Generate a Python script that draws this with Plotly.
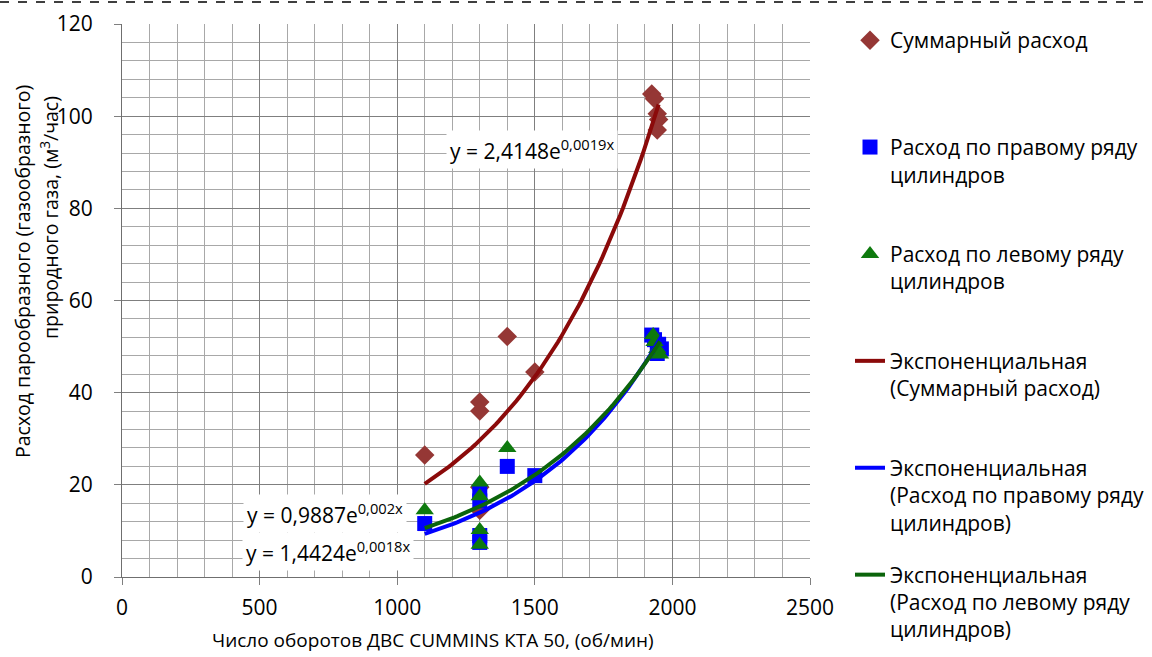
import numpy as np
import plotly.graph_objects as go

# ---- data ----
rpm_total = [1100, 1300, 1300, 1300, 1300, 1400, 1500, 1925, 1935, 1945, 1950, 1945]
flow_total = [26.5, 38.0, 36.0, 19.5, 14.5, 52.2, 44.5, 104.8, 103.8, 100.5, 99.3, 97.0]

rpm_right = [1100, 1300, 1300, 1300, 1300, 1400, 1500, 1925, 1935, 1960, 1950, 1945]
flow_right = [11.6, 18.5, 16.5, 9.0, 7.5, 24.0, 22.0, 52.5, 51.5, 49.5, 50.5, 48.5]

rpm_left = [1100, 1300, 1300, 1300, 1300, 1400, 1930, 1935, 1945, 1955]
flow_left = [14.5, 20.5, 17.5, 10.2, 7.0, 28.0, 52.5, 51.0, 49.5, 48.3]

x_ticks = [0, 500, 1000, 1500, 2000, 2500]
y_ticks = [0, 20, 40, 60, 80, 100, 120]

eq_total = "y = 2,4148e<sup>0,0019x</sup>"
eq_right = "y = 0,9887e<sup>0,002x</sup>"
eq_left = "y = 1,4424e<sup>0,0018x</sup>"

FONT = "Open Sans"
C_SUM = "#953735"
C_SUM_LINE = "#8B0A0A"
C_RIGHT = "#0000FF"
C_LEFT = "#0E7A0E"
C_LEFT_LINE = "#0B640B"
PAD = "<br>\u00a0"


def exp_fit(x, y):
    b, ln_a = np.polyfit(np.asarray(x, float), np.log(np.asarray(y, float)), 1)
    xs = np.linspace(min(x), max(x), 80)
    return xs, np.exp(ln_a) * np.exp(b * xs)


fig = go.Figure()

fig.add_trace(go.Scatter(
    x=rpm_total, y=flow_total, mode="markers", name="Суммарный расход" + PAD + PAD,
    legendgroup="g1",
    marker=dict(symbol="diamond", size=15, color=C_SUM)))
fig.add_trace(go.Scatter(
    x=rpm_right, y=flow_right, mode="markers", name="Расход по правому ряду<br>цилиндров" + PAD,
    legendgroup="g2",
    marker=dict(symbol="square", size=15, color=C_RIGHT)))
fig.add_trace(go.Scatter(
    x=rpm_left, y=flow_left, mode="markers", name="Расход по левому ряду<br>цилиндров" + PAD,
    legendgroup="g3",
    marker=dict(symbol="triangle-up", size=16, color=C_LEFT)))

xs, ys = exp_fit(rpm_total, flow_total)
fig.add_trace(go.Scatter(x=xs, y=ys, mode="lines",
                         name="Экспоненциальная<br>(Суммарный расход)" + PAD,
                         legendgroup="g4", line=dict(color=C_SUM_LINE, width=4)))
xs, ys = exp_fit(rpm_right, flow_right)
fig.add_trace(go.Scatter(x=xs, y=ys, mode="lines",
                         name="Экспоненциальная<br>(Расход по правому ряду<br>цилиндров)",
                         legendgroup="g5", line=dict(color=C_RIGHT, width=4)))
xs, ys = exp_fit(rpm_left, flow_left)
fig.add_trace(go.Scatter(x=xs, y=ys, mode="lines",
                         name="Экспоненциальная<br>(Расход по левому ряду<br>цилиндров)",
                         legendgroup="g6", line=dict(color=C_LEFT_LINE, width=4)))

# trendline equations
for txt, xv, yv in [(eq_total, 1490, 92.7), (eq_right, 738, 13.7), (eq_left, 749, 5.6)]:
    fig.add_annotation(x=xv, y=yv, xref="x", yref="y", text=txt, showarrow=False,
                       xanchor="center", yanchor="middle",
                       bgcolor="white", borderpad=3,
                       font=dict(family=FONT, size=21, color="black"))

# axis titles
fig.add_annotation(x=(433 - 122) / 688, y=(577 - 640) / 553, xref="paper", yref="paper",
                   xanchor="center", yanchor="middle",
                   text="Число оборотов ДВС CUMMINS КТА 50, (об/мин)", showarrow=False,
                   font=dict(family=FONT, size=19, color="black"))
fig.add_annotation(x=(22 - 122) / 688, y=(577 - 272) / 553, xref="paper", yref="paper",
                   xanchor="center", yanchor="middle",
                   text="Расход парообразного (газообразного)", showarrow=False, textangle=-90,
                   font=dict(family=FONT, size=19.5, color="black"))
fig.add_annotation(x=(49 - 122) / 688, y=(577 - 218) / 553, xref="paper", yref="paper",
                   xanchor="center", yanchor="middle",
                   text="природного газа, (м<sup>3</sup>/час)", showarrow=False, textangle=-90,
                   font=dict(family=FONT, size=19.5, color="black"))

# dashed frame line at top
fig.add_shape(type="line", xref="paper", yref="paper",
              x0=-122 / 688, x1=(1152 - 122) / 688, y0=(577 - 2) / 553, y1=(577 - 2) / 553,
              line=dict(color="black", width=1.5, dash="dash"))

fig.update_xaxes(range=[0, 2500], tickvals=x_ticks, ticktext=[str(v) for v in x_ticks],
                 showgrid=True, gridcolor="#7F7F7F", gridwidth=1,
                 minor=dict(dtick=100, showgrid=True, gridcolor="#A8A8A8", gridwidth=1),
                 showline=True, linecolor="#6F6F6F", linewidth=1.2,
                 ticks="outside", ticklen=7, tickcolor="#7F7F7F",
                 ticklabelstandoff=5,
                 tickfont=dict(family=FONT, size=21, color="black"), zeroline=False)
fig.update_yaxes(range=[0, 120], tickvals=y_ticks, ticktext=[str(v) for v in y_ticks],
                 showgrid=True, gridcolor="#7F7F7F", gridwidth=1,
                 minor=dict(dtick=4, showgrid=True, gridcolor="#A8A8A8", gridwidth=1),
                 showline=True, linecolor="#6F6F6F", linewidth=1.2,
                 ticks="outside", ticklen=7, tickcolor="#7F7F7F",
                 ticklabelstandoff=17,
                 tickfont=dict(family=FONT, size=21, color="black"), zeroline=False)

fig.update_layout(
    width=1152, height=657,
    margin=dict(l=122, r=342, t=24, b=80, autoexpand=False),
    paper_bgcolor="white", plot_bgcolor="white",
    font=dict(family=FONT, size=19, color="black"),
    showlegend=True,
    legend=dict(x=(850 - 122) / 688, xanchor="left", y=(577 - 20) / 553, yanchor="top",
                traceorder="grouped", tracegroupgap=22, valign="top", maxheight=700,
                font=dict(family=FONT, size=21, color="black"),
                bgcolor="rgba(0,0,0,0)"),
)

fig.write_html("out.html", config={"displayModeBar": False},
               post_script="document.body.style.margin='0px';")
